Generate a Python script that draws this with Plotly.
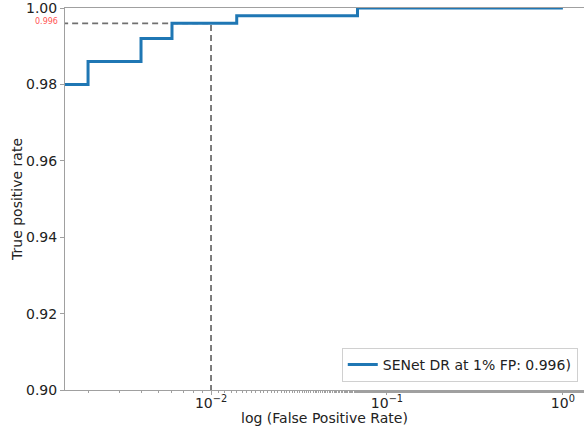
import plotly.graph_objects as go

# ROC curve step points (false positive rate, true positive rate)
fpr = [0.001, 0.002, 0.004, 0.006, 0.014, 0.068, 1.0]
tpr = [0.980, 0.986, 0.992, 0.996, 0.998, 1.000, 1.000]

target_fpr = 0.01
tpr_at_target = 0.996
legend_label = "SENet DR at 1% FP: 0.996)"

x_tickvals = [0.01, 0.1, 1.0]
x_ticktext = ["10<sup>\u22122</sup>", "10<sup>\u22121</sup>", "10<sup>0</sup>"]
y_tickvals = [0.90, 0.92, 0.94, 0.96, 0.98, 1.00]
y_ticktext = ["0.90", "0.92", "0.94", "0.96", "0.98", "1.00"]

FONT = "DejaVu Sans"
AX = "#a0a0a0"

fig = go.Figure()
# dashed guide lines
fig.add_trace(go.Scatter(x=[0.0005, target_fpr], y=[tpr_at_target, tpr_at_target],
                         mode="lines", line=dict(color="#707070", width=1.8, dash="6px,4px"),
                         showlegend=False, hoverinfo="skip"))
fig.add_trace(go.Scatter(x=[target_fpr, target_fpr], y=[0.85, tpr_at_target],
                         mode="lines", line=dict(color="#707070", width=1.8, dash="6px,4px"),
                         showlegend=False, hoverinfo="skip"))
fig.add_trace(go.Scatter(x=fpr, y=tpr, mode="lines", line_shape="hv",
                         line=dict(color="#1f77b4", width=3), name=legend_label))

fig.add_annotation(xref="paper", yref="y", x=0, y=tpr_at_target, text="0.996",
                   showarrow=False, xanchor="right", yanchor="middle", xshift=-5, yshift=2,
                   font=dict(family=FONT, size=8, color="#ff5555"))

fig.update_layout(
    width=584, height=426,
    margin=dict(l=65, r=0, t=8, b=36, autoexpand=False),
    paper_bgcolor="white", plot_bgcolor="white",
    font=dict(family=FONT, color="#222222"),
    xaxis=dict(type="log", range=[-2.83, 0.12], tickvals=x_tickvals, ticktext=x_ticktext,
               showgrid=False, zeroline=False, showline=True, linecolor=AX, linewidth=1,
               mirror=True, ticks="outside", ticklen=4, tickcolor=AX,
               tickfont=dict(size=14, family=FONT), ticklabelstandoff=-4,
               minor=dict(ticks="outside", ticklen=2, tickcolor=AX, showgrid=False),
               title=dict(text="log (False Positive Rate)", font=dict(size=14, family=FONT), standoff=0)),
    yaxis=dict(range=[0.90, 1.00], tickvals=y_tickvals, ticktext=y_ticktext,
               showgrid=False, zeroline=False, showline=True, linecolor=AX, linewidth=1,
               ticks="outside", ticklen=4, tickcolor=AX, ticklabeloverflow="allow",
               tickfont=dict(size=14, family=FONT),
               title=dict(text="True positive rate", font=dict(size=14, family=FONT), standoff=0)),
    legend=dict(x=0.988, y=0.021, xanchor="right", yanchor="bottom",
                bgcolor="white", bordercolor="#d0d0d0", borderwidth=1,
                font=dict(size=14, family=FONT)),
    showlegend=True,
)

fig.write_html("out.html", config={"displayModeBar": False},
               post_script="document.body.style.margin='0px';document.body.style.overflow='hidden';")
